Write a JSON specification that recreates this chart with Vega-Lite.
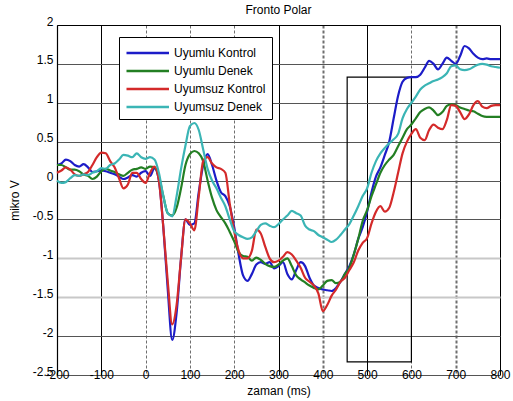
{
  "$schema": "https://vega.github.io/schema/vega-lite/v6.json",
  "autosize": {"type": "none"},
  "padding": {"left": 57, "top": 25, "right": 13, "bottom": 26},
  "width": 443,
  "height": 350,
  "background": "white",
  "config": {"view": {"stroke": null}, "font": "Liberation Sans"},
  "title": {"text": "Fronto Polar", "fontSize": 12, "fontWeight": "normal", "font": "Liberation Sans", "color": "black", "offset": -2},
  "encoding": {
    "x": {
      "field": "t", "type": "quantitative",
      "scale": {"domain": [-200, 800], "nice": false, "zero": false},
      "axis": {
        "title": "zaman (ms)",
        "values": [-200, -100, 0, 100, 200, 300, 400, 500, 600, 700, 800],
        "labelExpr": "toString(datum.value)",
        "ticks": false, "domain": false, "labelPadding": -6, "labelFlush": false, "labelOverlap": false,
        "labelFontSize": 12, "labelFont": "Liberation Sans", "labelColor": "black",
        "titleFontSize": 12, "titleFontWeight": "normal", "titleFont": "Liberation Sans", "titleColor": "black", "titlePadding": 5,
        "grid": true,
        "gridColor": {"condition": {"test": "datum.value==-200||datum.value==-100||datum.value==300||datum.value==500||datum.value==800", "value": "black"}, "value": "#6e6e6e"},
        "gridDash": {"condition": {"test": "datum.value==-200||datum.value==-100||datum.value==300||datum.value==500||datum.value==800", "value": []}, "value": [3, 2]},
        "gridWidth": {"condition": {"test": "datum.value==400||datum.value==700", "value": 2}, "value": 1},
        "gridOpacity": 1
      }
    },
    "y": {
      "field": "v", "type": "quantitative",
      "scale": {"domain": [-2.5, 2], "nice": false, "zero": false},
      "axis": {
        "title": "mikro V",
        "values": [-2.5, -2, -1.5, -1, -0.5, 0, 0.5, 1, 1.5, 2],
        "labelExpr": "toString(datum.value)",
        "ticks": false, "domain": true, "domainColor": "black", "domainWidth": 1.2,
        "labelPadding": 4, "labelOffset": -4, "labelFlush": false, "labelOverlap": false,
        "labelFontSize": 12, "labelFont": "Liberation Sans", "labelColor": "black",
        "titleFontSize": 12, "titleFontWeight": "normal", "titleFont": "Liberation Sans", "titleColor": "black", "titlePadding": 11,
        "grid": true,
        "gridColor": {"condition": [{"test": "datum.value==2", "value": "black"}, {"test": "datum.value==-1||datum.value==-1.5", "value": "#c8c8c8"}], "value": "#555555"},
        "gridWidth": {"condition": {"test": "datum.value==-1||datum.value==-1.5", "value": 2}, "value": 1},
        "gridOpacity": 1
      }
    }
  },
  "layer": [
    {
      "data": {"values": [{"t": 455, "t2": 600, "v": -2.33, "v2": 1.33}]},
      "mark": {"type": "rect", "fill": "transparent", "stroke": "black", "strokeWidth": 1.2},
      "encoding": {"x2": {"field": "t2"}, "y2": {"field": "v2"}}
    },
    {
      "data": {"values": [
        {"t": -200, "Uyumlu Kontrol": 0.2, "Uyumlu Denek": 0.2, "Uyumsuz Kontrol": 0.1, "Uyumsuz Denek": 0.0},
        {"t": -190, "Uyumlu Kontrol": 0.22, "Uyumlu Denek": 0.2, "Uyumsuz Kontrol": 0.13, "Uyumsuz Denek": -0.03},
        {"t": -180, "Uyumlu Kontrol": 0.27, "Uyumlu Denek": 0.17, "Uyumsuz Kontrol": 0.17, "Uyumsuz Denek": -0.02},
        {"t": -170, "Uyumlu Kontrol": 0.25, "Uyumlu Denek": 0.14, "Uyumsuz Kontrol": 0.14, "Uyumsuz Denek": 0.03},
        {"t": -160, "Uyumlu Kontrol": 0.2, "Uyumlu Denek": 0.14, "Uyumsuz Kontrol": 0.08, "Uyumsuz Denek": 0.07},
        {"t": -150, "Uyumlu Kontrol": 0.18, "Uyumlu Denek": 0.12, "Uyumsuz Kontrol": 0.06, "Uyumsuz Denek": 0.06},
        {"t": -140, "Uyumlu Kontrol": 0.21, "Uyumlu Denek": 0.08, "Uyumsuz Kontrol": 0.08, "Uyumsuz Denek": 0.08},
        {"t": -130, "Uyumlu Kontrol": 0.17, "Uyumlu Denek": 0.06, "Uyumsuz Kontrol": 0.11, "Uyumsuz Denek": 0.07},
        {"t": -120, "Uyumlu Kontrol": 0.11, "Uyumlu Denek": 0.02, "Uyumsuz Kontrol": 0.2, "Uyumsuz Denek": 0.1},
        {"t": -110, "Uyumlu Kontrol": 0.12, "Uyumlu Denek": 0.05, "Uyumsuz Kontrol": 0.3, "Uyumsuz Denek": 0.12},
        {"t": -100, "Uyumlu Kontrol": 0.13, "Uyumlu Denek": 0.12, "Uyumsuz Kontrol": 0.36, "Uyumsuz Denek": 0.16},
        {"t": -90, "Uyumlu Kontrol": 0.12, "Uyumlu Denek": 0.15, "Uyumsuz Kontrol": 0.35, "Uyumsuz Denek": 0.15},
        {"t": -80, "Uyumlu Kontrol": 0.1, "Uyumlu Denek": 0.13, "Uyumsuz Kontrol": 0.25, "Uyumsuz Denek": 0.2},
        {"t": -70, "Uyumlu Kontrol": 0.08, "Uyumlu Denek": 0.11, "Uyumsuz Kontrol": 0.17, "Uyumsuz Denek": 0.22},
        {"t": -60, "Uyumlu Kontrol": 0.05, "Uyumlu Denek": 0.08, "Uyumsuz Kontrol": 0.03, "Uyumsuz Denek": 0.27},
        {"t": -50, "Uyumlu Kontrol": 0.02, "Uyumlu Denek": 0.06, "Uyumsuz Kontrol": -0.1, "Uyumsuz Denek": 0.33},
        {"t": -40, "Uyumlu Kontrol": 0.04, "Uyumlu Denek": 0.1, "Uyumsuz Kontrol": -0.05, "Uyumsuz Denek": 0.32},
        {"t": -30, "Uyumlu Kontrol": 0.07, "Uyumlu Denek": 0.14, "Uyumsuz Kontrol": 0.1, "Uyumsuz Denek": 0.3},
        {"t": -20, "Uyumlu Kontrol": 0.05, "Uyumlu Denek": 0.15, "Uyumsuz Kontrol": 0.1, "Uyumsuz Denek": 0.35},
        {"t": -10, "Uyumlu Kontrol": 0.1, "Uyumlu Denek": 0.17, "Uyumsuz Kontrol": 0.02, "Uyumsuz Denek": 0.3},
        {"t": 0, "Uyumlu Kontrol": 0.12, "Uyumlu Denek": 0.15, "Uyumsuz Kontrol": -0.03, "Uyumsuz Denek": 0.28},
        {"t": 10, "Uyumlu Kontrol": 0.06, "Uyumlu Denek": 0.18, "Uyumsuz Kontrol": 0.1, "Uyumsuz Denek": 0.3},
        {"t": 20, "Uyumlu Kontrol": 0.16, "Uyumlu Denek": 0.17, "Uyumsuz Kontrol": 0.18, "Uyumsuz Denek": 0.27},
        {"t": 30, "Uyumlu Kontrol": 0.0, "Uyumlu Denek": 0.05, "Uyumsuz Kontrol": 0.0, "Uyumsuz Denek": 0.1},
        {"t": 40, "Uyumlu Kontrol": -0.6, "Uyumlu Denek": -0.2, "Uyumsuz Kontrol": -0.6, "Uyumsuz Denek": -0.2},
        {"t": 50, "Uyumlu Kontrol": -1.4, "Uyumlu Denek": -0.42, "Uyumsuz Kontrol": -1.3, "Uyumsuz Denek": -0.42},
        {"t": 60, "Uyumlu Kontrol": -2.05, "Uyumlu Denek": -0.45, "Uyumsuz Kontrol": -1.85, "Uyumsuz Denek": -0.46},
        {"t": 70, "Uyumlu Kontrol": -1.7, "Uyumlu Denek": -0.35, "Uyumsuz Kontrol": -1.6, "Uyumsuz Denek": -0.2},
        {"t": 80, "Uyumlu Kontrol": -1.0, "Uyumlu Denek": -0.1, "Uyumsuz Kontrol": -1.0, "Uyumsuz Denek": 0.15},
        {"t": 90, "Uyumlu Kontrol": -0.5, "Uyumlu Denek": 0.2, "Uyumsuz Kontrol": -0.5, "Uyumsuz Denek": 0.45},
        {"t": 100, "Uyumlu Kontrol": -0.57, "Uyumlu Denek": 0.34, "Uyumsuz Kontrol": -0.55, "Uyumsuz Denek": 0.7},
        {"t": 110, "Uyumlu Kontrol": -0.55, "Uyumlu Denek": 0.38, "Uyumsuz Kontrol": -0.64, "Uyumsuz Denek": 0.74},
        {"t": 120, "Uyumlu Kontrol": -0.15, "Uyumlu Denek": 0.35, "Uyumsuz Kontrol": -0.2, "Uyumsuz Denek": 0.65},
        {"t": 130, "Uyumlu Kontrol": 0.2, "Uyumlu Denek": 0.25, "Uyumsuz Kontrol": 0.25, "Uyumsuz Denek": 0.4},
        {"t": 140, "Uyumlu Kontrol": 0.34, "Uyumlu Denek": 0.0, "Uyumsuz Kontrol": 0.3, "Uyumsuz Denek": 0.15},
        {"t": 150, "Uyumlu Kontrol": 0.2, "Uyumlu Denek": -0.22, "Uyumsuz Kontrol": 0.22, "Uyumsuz Denek": 0.0},
        {"t": 160, "Uyumlu Kontrol": 0.0, "Uyumlu Denek": -0.38, "Uyumsuz Kontrol": 0.17, "Uyumsuz Denek": -0.1},
        {"t": 170, "Uyumlu Kontrol": -0.15, "Uyumlu Denek": -0.47, "Uyumsuz Kontrol": 0.15, "Uyumsuz Denek": -0.22},
        {"t": 180, "Uyumlu Kontrol": -0.2, "Uyumlu Denek": -0.55, "Uyumsuz Kontrol": 0.1, "Uyumsuz Denek": -0.33},
        {"t": 190, "Uyumlu Kontrol": -0.33, "Uyumlu Denek": -0.66, "Uyumsuz Kontrol": -0.3, "Uyumsuz Denek": -0.5},
        {"t": 200, "Uyumlu Kontrol": -0.6, "Uyumlu Denek": -0.78, "Uyumsuz Kontrol": -0.65, "Uyumsuz Denek": -0.65},
        {"t": 210, "Uyumlu Kontrol": -0.95, "Uyumlu Denek": -0.92, "Uyumsuz Kontrol": -0.9, "Uyumsuz Denek": -0.7},
        {"t": 220, "Uyumlu Kontrol": -1.22, "Uyumlu Denek": -0.97, "Uyumsuz Kontrol": -1.0, "Uyumsuz Denek": -0.73},
        {"t": 230, "Uyumlu Kontrol": -1.29, "Uyumlu Denek": -0.98, "Uyumsuz Kontrol": -1.0, "Uyumsuz Denek": -0.75},
        {"t": 240, "Uyumlu Kontrol": -1.2, "Uyumlu Denek": -1.03, "Uyumsuz Kontrol": -0.9, "Uyumsuz Denek": -0.73},
        {"t": 250, "Uyumlu Kontrol": -1.08, "Uyumlu Denek": -0.99, "Uyumsuz Kontrol": -0.63, "Uyumsuz Denek": -0.65},
        {"t": 260, "Uyumlu Kontrol": -1.05, "Uyumlu Denek": -1.02, "Uyumsuz Kontrol": -0.68, "Uyumsuz Denek": -0.57},
        {"t": 270, "Uyumlu Kontrol": -1.07, "Uyumlu Denek": -1.07, "Uyumsuz Kontrol": -0.85, "Uyumsuz Denek": -0.55},
        {"t": 280, "Uyumlu Kontrol": -1.05, "Uyumlu Denek": -1.1, "Uyumsuz Kontrol": -1.0, "Uyumsuz Denek": -0.58},
        {"t": 290, "Uyumlu Kontrol": -1.13, "Uyumlu Denek": -1.11, "Uyumsuz Kontrol": -1.05, "Uyumsuz Denek": -0.6},
        {"t": 300, "Uyumlu Kontrol": -1.1, "Uyumlu Denek": -1.08, "Uyumsuz Kontrol": -1.03, "Uyumsuz Denek": -0.56},
        {"t": 310, "Uyumlu Kontrol": -1.05, "Uyumlu Denek": -1.03, "Uyumsuz Kontrol": -0.98, "Uyumsuz Denek": -0.5},
        {"t": 320, "Uyumlu Kontrol": -1.2, "Uyumlu Denek": -1.0, "Uyumsuz Kontrol": -0.92, "Uyumsuz Denek": -0.45},
        {"t": 330, "Uyumlu Kontrol": -1.27, "Uyumlu Denek": -1.1, "Uyumsuz Kontrol": -0.95, "Uyumsuz Denek": -0.39},
        {"t": 340, "Uyumlu Kontrol": -1.15, "Uyumlu Denek": -1.22, "Uyumsuz Kontrol": -1.03, "Uyumsuz Denek": -0.42},
        {"t": 350, "Uyumlu Kontrol": -1.05, "Uyumlu Denek": -1.27, "Uyumsuz Kontrol": -1.12, "Uyumsuz Denek": -0.45},
        {"t": 360, "Uyumlu Kontrol": -1.1, "Uyumlu Denek": -1.31, "Uyumsuz Kontrol": -1.25, "Uyumsuz Denek": -0.58},
        {"t": 370, "Uyumlu Kontrol": -1.25, "Uyumlu Denek": -1.35, "Uyumsuz Kontrol": -1.3, "Uyumsuz Denek": -0.63},
        {"t": 380, "Uyumlu Kontrol": -1.35, "Uyumlu Denek": -1.38, "Uyumsuz Kontrol": -1.35, "Uyumsuz Denek": -0.65},
        {"t": 390, "Uyumlu Kontrol": -1.38, "Uyumlu Denek": -1.4, "Uyumsuz Kontrol": -1.45, "Uyumsuz Denek": -0.7},
        {"t": 400, "Uyumlu Kontrol": -1.4, "Uyumlu Denek": -1.35, "Uyumsuz Kontrol": -1.68, "Uyumsuz Denek": -0.73},
        {"t": 410, "Uyumlu Kontrol": -1.41, "Uyumlu Denek": -1.29, "Uyumsuz Kontrol": -1.6, "Uyumsuz Denek": -0.76},
        {"t": 420, "Uyumlu Kontrol": -1.42, "Uyumlu Denek": -1.28, "Uyumsuz Kontrol": -1.48, "Uyumsuz Denek": -0.79},
        {"t": 430, "Uyumlu Kontrol": -1.38, "Uyumlu Denek": -1.32, "Uyumsuz Kontrol": -1.4, "Uyumsuz Denek": -0.76},
        {"t": 440, "Uyumlu Kontrol": -1.3, "Uyumlu Denek": -1.3, "Uyumsuz Kontrol": -1.3, "Uyumsuz Denek": -0.7},
        {"t": 450, "Uyumlu Kontrol": -1.2, "Uyumlu Denek": -1.2, "Uyumsuz Kontrol": -1.25, "Uyumsuz Denek": -0.63},
        {"t": 460, "Uyumlu Kontrol": -1.1, "Uyumlu Denek": -1.12, "Uyumsuz Kontrol": -1.15, "Uyumsuz Denek": -0.56},
        {"t": 470, "Uyumlu Kontrol": -0.95, "Uyumlu Denek": -0.95, "Uyumsuz Kontrol": -1.05, "Uyumsuz Denek": -0.45},
        {"t": 480, "Uyumlu Kontrol": -0.75, "Uyumlu Denek": -0.75, "Uyumsuz Kontrol": -0.9, "Uyumsuz Denek": -0.33},
        {"t": 490, "Uyumlu Kontrol": -0.6, "Uyumlu Denek": -0.52, "Uyumsuz Kontrol": -0.8, "Uyumsuz Denek": -0.2},
        {"t": 500, "Uyumlu Kontrol": -0.4, "Uyumlu Denek": -0.38, "Uyumsuz Kontrol": -0.74, "Uyumsuz Denek": -0.1},
        {"t": 510, "Uyumlu Kontrol": -0.15, "Uyumlu Denek": -0.2, "Uyumsuz Kontrol": -0.55, "Uyumsuz Denek": 0.1},
        {"t": 520, "Uyumlu Kontrol": 0.05, "Uyumlu Denek": -0.05, "Uyumsuz Kontrol": -0.4, "Uyumsuz Denek": 0.25},
        {"t": 530, "Uyumlu Kontrol": 0.17, "Uyumlu Denek": 0.1, "Uyumsuz Kontrol": -0.33, "Uyumsuz Denek": 0.35},
        {"t": 540, "Uyumlu Kontrol": 0.33, "Uyumlu Denek": 0.2, "Uyumsuz Kontrol": -0.4, "Uyumsuz Denek": 0.42},
        {"t": 550, "Uyumlu Kontrol": 0.5, "Uyumlu Denek": 0.27, "Uyumsuz Kontrol": -0.35, "Uyumsuz Denek": 0.48},
        {"t": 560, "Uyumlu Kontrol": 0.8, "Uyumlu Denek": 0.33, "Uyumsuz Kontrol": -0.15, "Uyumsuz Denek": 0.53},
        {"t": 570, "Uyumlu Kontrol": 1.09, "Uyumlu Denek": 0.44, "Uyumsuz Kontrol": 0.1, "Uyumsuz Denek": 0.6},
        {"t": 580, "Uyumlu Kontrol": 1.27, "Uyumlu Denek": 0.55, "Uyumsuz Kontrol": 0.35, "Uyumsuz Denek": 0.8},
        {"t": 590, "Uyumlu Kontrol": 1.32, "Uyumlu Denek": 0.66, "Uyumsuz Kontrol": 0.5, "Uyumsuz Denek": 0.92},
        {"t": 600, "Uyumlu Kontrol": 1.33, "Uyumlu Denek": 0.72, "Uyumsuz Kontrol": 0.6, "Uyumsuz Denek": 1.0},
        {"t": 610, "Uyumlu Kontrol": 1.33, "Uyumlu Denek": 0.8, "Uyumsuz Kontrol": 0.66, "Uyumsuz Denek": 1.08},
        {"t": 620, "Uyumlu Kontrol": 1.36, "Uyumlu Denek": 0.88, "Uyumsuz Kontrol": 0.55, "Uyumsuz Denek": 1.17},
        {"t": 630, "Uyumlu Kontrol": 1.45, "Uyumlu Denek": 0.92, "Uyumsuz Kontrol": 0.52, "Uyumsuz Denek": 1.22},
        {"t": 640, "Uyumlu Kontrol": 1.54, "Uyumlu Denek": 0.94, "Uyumsuz Kontrol": 0.65, "Uyumsuz Denek": 1.25},
        {"t": 650, "Uyumlu Kontrol": 1.5, "Uyumlu Denek": 0.9, "Uyumsuz Kontrol": 0.72, "Uyumsuz Denek": 1.28},
        {"t": 660, "Uyumlu Kontrol": 1.43, "Uyumlu Denek": 0.84, "Uyumsuz Kontrol": 0.68, "Uyumsuz Denek": 1.3},
        {"t": 670, "Uyumlu Kontrol": 1.5, "Uyumlu Denek": 0.88, "Uyumsuz Kontrol": 0.66, "Uyumsuz Denek": 1.33},
        {"t": 680, "Uyumlu Kontrol": 1.58, "Uyumlu Denek": 0.96, "Uyumsuz Kontrol": 0.78, "Uyumsuz Denek": 1.38},
        {"t": 690, "Uyumlu Kontrol": 1.54, "Uyumlu Denek": 0.98, "Uyumsuz Kontrol": 0.97, "Uyumsuz Denek": 1.47},
        {"t": 700, "Uyumlu Kontrol": 1.5, "Uyumlu Denek": 0.97, "Uyumsuz Kontrol": 0.96, "Uyumsuz Denek": 1.48},
        {"t": 710, "Uyumlu Kontrol": 1.6, "Uyumlu Denek": 0.94, "Uyumsuz Kontrol": 0.88, "Uyumsuz Denek": 1.43},
        {"t": 720, "Uyumlu Kontrol": 1.73, "Uyumlu Denek": 0.92, "Uyumsuz Kontrol": 0.79, "Uyumsuz Denek": 1.42},
        {"t": 730, "Uyumlu Kontrol": 1.7, "Uyumlu Denek": 0.9, "Uyumsuz Kontrol": 0.85, "Uyumsuz Denek": 1.43},
        {"t": 740, "Uyumlu Kontrol": 1.63, "Uyumlu Denek": 0.89, "Uyumsuz Kontrol": 0.97, "Uyumsuz Denek": 1.46},
        {"t": 750, "Uyumlu Kontrol": 1.58, "Uyumlu Denek": 0.86, "Uyumsuz Kontrol": 1.02, "Uyumsuz Denek": 1.49},
        {"t": 760, "Uyumlu Kontrol": 1.56, "Uyumlu Denek": 0.83, "Uyumsuz Kontrol": 0.95, "Uyumsuz Denek": 1.5},
        {"t": 770, "Uyumlu Kontrol": 1.57, "Uyumlu Denek": 0.82, "Uyumsuz Kontrol": 0.93, "Uyumsuz Denek": 1.49},
        {"t": 780, "Uyumlu Kontrol": 1.56, "Uyumlu Denek": 0.82, "Uyumsuz Kontrol": 0.96, "Uyumsuz Denek": 1.47},
        {"t": 790, "Uyumlu Kontrol": 1.56, "Uyumlu Denek": 0.82, "Uyumsuz Kontrol": 0.97, "Uyumsuz Denek": 1.46},
        {"t": 800, "Uyumlu Kontrol": 1.56, "Uyumlu Denek": 0.82, "Uyumsuz Kontrol": 0.97, "Uyumsuz Denek": 1.45}
      ]},
      "transform": [{"fold": ["Uyumlu Kontrol", "Uyumlu Denek", "Uyumsuz Kontrol", "Uyumsuz Denek"], "as": ["seri", "v"]}],
      "mark": {"type": "line", "strokeWidth": 2.2, "interpolate": "monotone"},
      "encoding": {
        "color": {
          "field": "seri", "type": "nominal",
          "scale": {"domain": ["Uyumlu Kontrol", "Uyumlu Denek", "Uyumsuz Kontrol", "Uyumsuz Denek"], "range": ["#1c1cc8", "#237f23", "#d42a2a", "#3bb5b5"]},
          "legend": {
            "title": null, "orient": "none", "legendX": 62, "legendY": 12,
            "strokeColor": "black", "fillColor": "white", "padding": 6,
            "symbolType": "M-1,0H4", "symbolSize": 289, "symbolStrokeWidth": 2.5,
            "labelFontSize": 12, "labelFont": "Liberation Sans", "labelColor": "black", "labelOffset": 29,
            "rowPadding": 2
          }
        }
      }
    }
  ]
}
